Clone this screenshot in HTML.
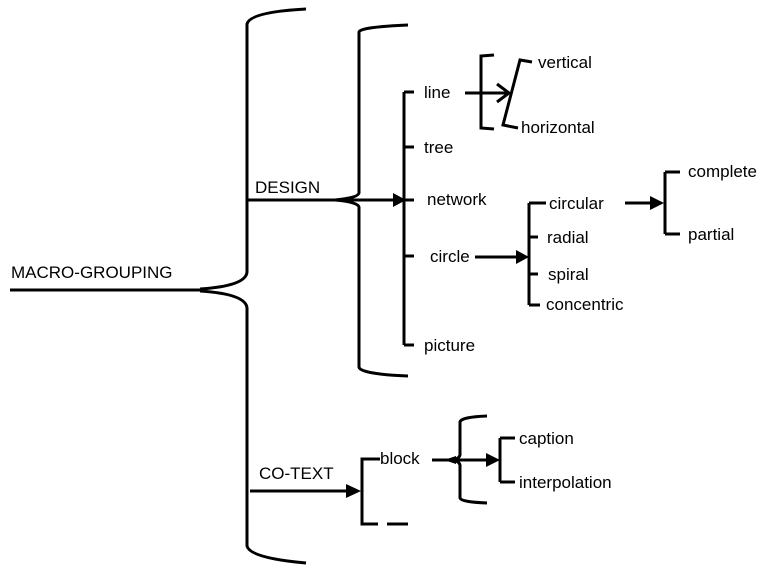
<!DOCTYPE html>
<html><head><meta charset="utf-8"><style>
html,body{margin:0;padding:0;background:#fff;}
svg text{font-family:"Liberation Sans",sans-serif;font-size:17px;fill:#000;}
</style></head><body>
<svg width="780" height="572" viewBox="0 0 780 572" xmlns="http://www.w3.org/2000/svg">
<g fill="none" stroke="#000" stroke-width="3">
<!-- big brace -->
<path d="M306,9 Q250,12 247,24 L247,272 Q246,286 200,289 M200,291 Q246,294 247,308 L247,546 Q250,558 306,563"/>
<path d="M10,290 L200,290"/>
<!-- design -->
<path d="M247,200 L335,200"/>
<path d="M408,25 Q360,27 359,32 L359,193 Q358,198 335,200 M335,200 Q358,202 359,207 L359,367 Q360,374 408,376"/>
<path d="M335,200 L395,200"/>
<path d="M404,92 L404,345 M404,92 L414,92 M404,147 L414,147 M404,200 L414,200 M404,256 L414,256 M404,345 L414,345"/>
<!-- line -->
<path d="M465,93 L508,93 M497,84 L509,93 L497,102"/>
<path d="M494,55 L481,56 L481,128 L494,129"/>
<path d="M532,62 L520,60 L503,125 L518,128"/>
<!-- circle -->
<path d="M475,257 L518,257"/>
<path d="M529,203 L529,305 M529,203 L546,203 M529,237 L538,237 M529,274 L538,274 M529,305 L540,305"/>
<path d="M625,203 L652,203"/>
<path d="M665,172 L665,234 M665,172 L680,172 M665,234 L680,234"/>
<!-- co-text -->
<path d="M250,491 L348,491"/>
<path d="M380,459 L362,459 L362,524 L378,524 M387,524 L408,524"/>
<path d="M432,460 L490,460"/>
<path d="M487,416 Q461,417 460,422 L460,455 Q459,459 452,460 M452,460 Q459,461 460,465 L460,498 Q461,502 487,503"/>
<path d="M500,438 L500,482 M500,438 L515,438 M500,482 L515,482"/>
</g>
<g fill="#000">
<polygon points="393,193 406,200 393,207"/>
<polygon points="516,250 529,257 516,264"/>
<polygon points="650,196 664,203 650,210"/>
<polygon points="346,484 361,491 346,498"/>
<polygon points="486,453 500,460 486,467"/>
<polygon points="444,460 456,456 456,464"/>
</g>
<text x="11" y="278">MACRO-GROUPING</text>
<text x="255" y="193">DESIGN</text>
<text x="424" y="98">line</text>
<text x="424" y="153">tree</text>
<text x="427" y="205">network</text>
<text x="430" y="262">circle</text>
<text x="424" y="351">picture</text>
<text x="538" y="68">vertical</text>
<text x="521" y="133">horizontal</text>
<text x="549" y="209">circular</text>
<text x="547" y="243">radial</text>
<text x="548" y="280">spiral</text>
<text x="546" y="310">concentric</text>
<text x="688" y="177">complete</text>
<text x="688" y="240">partial</text>
<text x="259" y="479">CO-TEXT</text>
<text x="380" y="464">block</text>
<text x="519" y="444">caption</text>
<text x="519" y="488">interpolation</text>
</svg>
</body></html>
